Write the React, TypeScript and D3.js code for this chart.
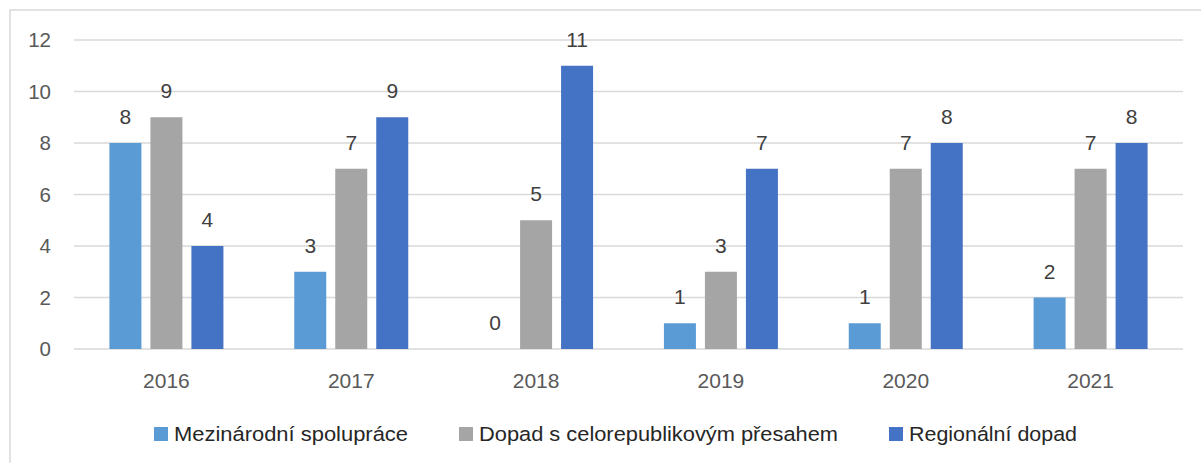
import React from "react";
import * as d3 from "d3";

const categories = ["2016", "2017", "2018", "2019", "2020", "2021"];
const seriesNames = [
  "Mezinárodní spolupráce",
  "Dopad s celorepublikovým přesahem",
  "Regionální dopad",
];
const mezinarodni = [8, 3, 0, 1, 1, 2];
const celorepublikovy = [9, 7, 5, 3, 7, 7];
const regionalni = [4, 9, 11, 7, 8, 8];
const yTicks = [0, 2, 4, 6, 8, 10, 12];

const colors = ["#5B9BD5", "#A5A5A5", "#4472C4"];
const legendLayout = [
  { x: 154, w: 234 },
  { x: 459, w: 359 },
  { x: 889, w: 168 },
];

const W = 1201;
const H = 463;
const plotLeft = 74;
const plotRight = 1183;
const plotTop = 40;
const plotBottom = 349;
const FONT = "'Liberation Sans', Arial, sans-serif";

export default function App() {
  const series = [mezinarodni, celorepublikovy, regionalni];
  const x0 = d3.scaleBand<string>().domain(categories).range([plotLeft, plotRight]).padding(0);
  const groupW = 114;
  const x1 = d3
    .scaleBand<number>()
    .domain([0, 1, 2])
    .range([0, groupW])
    .paddingInner(9 / 41)
    .paddingOuter(0);
  const y = d3.scaleLinear().domain([0, 12]).range([plotBottom, plotTop]);

  return (
    <svg
      width={W}
      height={H}
      style={{ position: "absolute", left: 0, top: 0, background: "#fff" }}
    >
      <rect x={10} y={10} width={1200} height={460} fill="#fff" stroke="#D9D9D9" strokeWidth={1.5} />
      {yTicks.map((t) => (
        <g key={t}>
          <line x1={plotLeft} x2={plotRight} y1={y(t)} y2={y(t)} stroke="#D9D9D9" strokeWidth={1.5} />
          <text
            x={51}
            y={y(t)}
            dy="0.36em"
            textAnchor="end"
            fontFamily={FONT}
            fontSize={20.5}
            fill="#595959"
          >
            {t}
          </text>
        </g>
      ))}
      {categories.map((c, ci) => {
        const cx = (x0(c) as number) + x0.bandwidth() / 2;
        const gx = cx - groupW / 2;
        return (
          <g key={c}>
            {series.map((s, si) => {
              const bx = gx + (x1(si) as number);
              const v = s[ci];
              return (
                <g key={si}>
                  {v > 0 && (
                    <rect
                      x={bx}
                      y={y(v)}
                      width={x1.bandwidth()}
                      height={plotBottom - y(v)}
                      fill={colors[si]}
                    />
                  )}
                  <text
                    x={bx + x1.bandwidth() / 2}
                    y={y(v) - 19}
                    textAnchor="middle"
                    fontFamily={FONT}
                    fontSize={21}
                    fill="#404040"
                  >
                    {v}
                  </text>
                </g>
              );
            })}
            <text
              x={cx}
              y={388}
              textAnchor="middle"
              fontFamily={FONT}
              fontSize={21}
              fill="#595959"
            >
              {c}
            </text>
          </g>
        );
      })}
      {seriesNames.map((n, i) => (
        <g key={n}>
          <rect x={legendLayout[i].x} y={427} width={14} height={14} fill={colors[i]} />
          <text
            x={legendLayout[i].x + 20}
            y={441}
            fontFamily={FONT}
            fontSize={20.5}
            fill="#262626"
            textLength={legendLayout[i].w}
            lengthAdjust="spacingAndGlyphs"
          >
            {n}
          </text>
        </g>
      ))}
    </svg>
  );
}
